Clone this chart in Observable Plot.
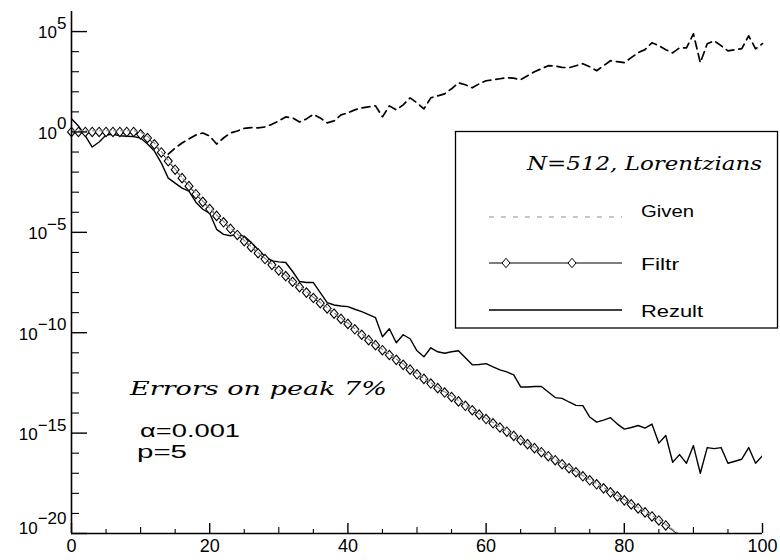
<!DOCTYPE html>
<html><head><meta charset="utf-8">
<script src="https://cdn.jsdelivr.net/npm/d3@7"></script>
<script src="https://cdn.jsdelivr.net/npm/@observablehq/plot@0.6"></script>
<style>
html,body{margin:0;padding:0;background:#fff;}
#chart{width:780px;height:560px;}
</style></head><body><div id="chart"></div>
<script>
// ---- data (values are log10 of the plotted quantity, x = index + start) ----
const filtrLog10 = [0,0,0,0,0,0,0,0,0,0,
  -0.12,-0.3,-0.62,-1.02,-1.45,-1.88,-2.3,-2.7,-3.1,-3.48,
  -3.84,-4.18,-4.5,-4.82,-5.13,-5.44,-5.74,-6.04,-6.33,-6.62,
  -6.9,-7.18,-7.46,-7.73,-8.0,-8.27,-8.53,-8.79,-9.05,-9.31,
  -9.56,-9.83,-10.1,-10.37,-10.62,-10.87,-11.11,-11.35,-11.6,-11.84,
  -12.07,-12.3,-12.53,-12.76,-12.98,-13.2,-13.42,-13.64,-13.86,-14.08,
  -14.3,-14.51,-14.72,-14.93,-15.14,-15.35,-15.55,-15.75,-15.95,-16.15,
  -16.35,-16.55,-16.75,-16.95,-17.15,-17.35,-17.55,-17.75,-17.95,-18.15,
  -18.35,-18.55,-18.75,-18.95,-19.15,-19.35,-19.6,-19.85,-20.1];
const filtrMarkerLast = 86;

const givenLog10 = [0.06,0.06,0.06,0.06,0.06,0.06,0.06,0.06,0.06,0.06,
  0.0,-0.22,-0.55,-0.98,-1.41,-1.84,-2.26,-2.66,-3.06,-3.44,
  -3.8,-4.14,-4.46,-4.78,-5.09,-5.4,-5.7,-6.0,-6.29,-6.58,
  -6.86,-7.14,-7.42,-7.69,-7.96,-8.23,-8.49,-8.75,-9.01,-9.27,
  -9.52,-9.79,-10.06,-10.33,-10.58,-10.83,-11.07,-11.31,-11.56,-11.8,
  -12.03,-12.26,-12.49,-12.72,-12.94,-13.16,-13.38,-13.6,-13.82,-14.04,
  -14.26,-14.47,-14.68,-14.89,-15.1,-15.31,-15.51,-15.71,-15.91,-16.11,
  -16.31,-16.51,-16.71,-16.91,-17.11,-17.31,-17.51,-17.71,-17.91,-18.11,
  -18.31,-18.51,-18.71,-18.91,-19.11,-19.31,-19.55,-19.8,-20.05];

const rezultLog10 = [0.66,0.3,-0.2,-0.75,-0.5,-0.15,-0.12,-0.19,-0.21,-0.23,
  -0.3,-0.6,-0.95,-1.55,-2.3,-2.55,-2.8,-2.95,-3.5,-3.85,
  -4.05,-4.85,-5.1,-5.17,-5.1,-5.2,-5.5,-5.85,-6.2,-6.42,
  -6.47,-6.5,-6.95,-7.45,-7.5,-7.5,-8.0,-8.5,-8.62,-8.67,
  -8.7,-8.83,-8.95,-9.1,-9.25,-10.2,-9.8,-10.5,-10.1,-10.3,
  -10.9,-11.2,-10.75,-10.95,-11.02,-10.95,-10.9,-11.25,-11.6,-11.58,
  -11.54,-11.7,-11.85,-11.95,-12.1,-12.7,-12.7,-12.68,-12.68,-12.95,
  -13.23,-13.27,-13.45,-13.62,-13.63,-14.2,-14.45,-14.35,-14.23,-14.55,
  -14.8,-14.72,-14.62,-14.75,-14.55,-15.5,-15.12,-16.45,-16.07,-16.5,
  -15.62,-17.0,-15.72,-15.77,-15.72,-16.5,-16.4,-16.3,-15.72,-16.5,
  -16.12];

const noiseStart = 14;
const noiseLog10 = [-1.1,-0.8,-0.55,-0.35,-0.15,-0.05,-0.2,-0.6,-0.3,-0.05,
  0.05,0.18,0.22,0.2,0.25,0.38,0.55,0.75,0.7,0.5,
  0.65,0.88,0.7,0.45,0.55,0.85,0.95,1.1,1.2,1.25,
  1.3,0.75,1.3,1.1,1.35,1.7,1.45,1.15,1.7,1.8,
  1.9,2.15,2.45,2.35,2.2,2.4,2.55,2.6,2.65,2.7,
  2.68,2.6,2.8,3.0,3.15,3.3,3.28,3.22,3.2,3.3,
  3.4,3.25,3.05,3.3,3.55,3.5,3.45,3.7,3.95,4.1,
  4.44,4.3,4.1,3.94,4.19,4.19,4.89,3.45,4.39,4.54,
  4.3,4.04,4.1,4.15,4.79,4.14,4.4];

const xLabelTicks = [0, 20, 40, 60, 80, 100];
const xTenTicks = [10, 30, 50, 70, 90];
const xFiveTicks = [5, 15, 25, 35, 45, 55, 65, 75, 85, 95];
const yMajorExp = [5, 0, -5, -10, -15, -20];
const yMinorExp = [4, 3, 2, 1, -1, -2, -3, -4, -6, -7, -8, -9, -11, -12, -13, -14, -16, -17, -18, -19];

const legendTitle = "N=512, Lorentzians";
const legendNames = ["Given", "Filtr", "Rezult"];
const noteTitle = "Errors on peak 7%";
const noteAlpha = "α=0.001";
const noteP = "p=5";

// ---- build ----
const W = 780, H = 560, mL = 71, mR = 18, mT = 11, mB = 27;
const fw = W - mL - mR, fh = H - mT - mB;
const toPts = (arr, start = 0) => arr.map((v, i) => ({x: start + i, y: Math.pow(10, v)}));
const filtr = toPts(filtrLog10), given = toPts(givenLog10), rezult = toPts(rezultLog10), noise = toPts(noiseLog10, noiseStart);
const yMajor = yMajorExp.map(e => Math.pow(10, e));
const yMinor = yMinorExp.map(e => Math.pow(10, e));

const diamond = {draw(ctx, size) {
  const s = Math.sqrt(size), h = s * 0.59, w = s * 0.5;
  ctx.moveTo(0, -h); ctx.lineTo(w, 0); ctx.lineTo(0, h); ctx.lineTo(-w, 0); ctx.closePath();
}};

const svgEl = Plot.plot({
  width: W, height: H,
  marginLeft: mL, marginRight: mR, marginTop: mT, marginBottom: mB,
  style: {background: "#fff", color: "#000", fontFamily: "'Liberation Sans', Arial, sans-serif", fontSize: "18px"},
  x: {domain: [0, 100], label: null},
  y: {type: "log", domain: [1e-20, 1e6], label: null},
  marks: [
    Plot.line(rezult, {x: "x", y: "y", stroke: "#000", strokeWidth: 1.4, clip: true}),
    Plot.line(filtr, {x: "x", y: "y", stroke: "#000", strokeWidth: 1, clip: true}),
    Plot.dot(filtr.filter(d => d.x <= filtrMarkerLast), {x: "x", y: "y", symbol: diamond, r: 4.5, fill: "#fff", stroke: "#000", strokeWidth: 1.1}),
    Plot.line(given, {x: "x", y: "y", stroke: "#8c8c8c", strokeWidth: 1.2, strokeDasharray: "4,3", clip: true}),
    Plot.line(noise, {x: "x", y: "y", stroke: "#000", strokeWidth: 1.7, strokeDasharray: "8,5"}),
    Plot.ruleX([0], {strokeWidth: 1.6}),
    Plot.ruleY([1e-20], {strokeWidth: 1.6}),
    Plot.tickY(yMajor, {y: d => d, insetRight: fw - 16, strokeWidth: 1.4}),
    Plot.tickY(yMinor, {y: d => d, insetRight: fw - 8, strokeWidth: 1.1}),
    Plot.tickX(xLabelTicks, {x: d => d, insetTop: fh - 10, strokeWidth: 1.4}),
    Plot.tickX(xTenTicks, {x: d => d, insetTop: fh - 6, strokeWidth: 1.1}),
    Plot.tickX(xFiveTicks, {x: d => d, insetTop: fh - 4, strokeWidth: 1.1}),
    Plot.axisX({ticks: xLabelTicks, tickSize: 0, tickPadding: 6, fontSize: 18, label: null, tickFormat: d => String(d)}),
    Plot.axisY({ticks: yMajor, tickSize: 0, tickPadding: 5, fontSize: 17, label: null, tickFormat: d => String(Math.round(Math.log10(d)))})
  ]
});
document.getElementById("chart").appendChild(svgEl);

const svg = d3.select(svgEl);
svg.selectAll('g[aria-label="x-axis tick label"] text').style("font-size", "18px").style("font-family", "'Liberation Sans', Arial, sans-serif");
svg.selectAll('g[aria-label="y-axis tick label"] text').each(function () {
  const t = d3.select(this);
  const e = t.text();
  t.text(null);
  t.style("font-size", "17px").style("font-family", "'Liberation Sans', Arial, sans-serif");
  t.attr("y", e === "-20" ? "0.0em" : "0.4em");
  t.append("tspan").text("10");
  t.append("tspan").attr("dy", "-0.55em").text(e.replace("-", "\u2212"));
});

// legend box
const lg = svg.append("g").attr("text-anchor", "start");
lg.append("rect").attr("x", 455.5).attr("y", 131.5).attr("width", 322).attr("height", 196.5)
  .attr("fill", "#fff").attr("stroke", "#000").attr("stroke-width", 1.3);
const serif = "'DejaVu Serif', 'Liberation Serif', serif";
const sans = "'Liberation Sans', Arial, sans-serif";
function txt(g, s, x, y, len, family, size, italic) {
  return g.append("text").attr("x", x).attr("y", y).attr("text-anchor", "start")
    .style("font-family", family).style("font-size", size + "px")
    .style("font-style", italic ? "italic" : "normal").attr("fill", "#000")
    .attr("textLength", len).attr("lengthAdjust", "spacingAndGlyphs").text(s);
}
txt(lg, legendTitle, 527, 170, 235, serif, 18, true);
const rows = [217, 263, 310];
const rowText = [217, 270, 317];
const textLen = [53, 38, 62];
lg.append("line").attr("x1", 489).attr("x2", 622).attr("y1", rows[0]).attr("y2", rows[0])
  .attr("stroke", "#8c8c8c").attr("stroke-width", 1.2).attr("stroke-dasharray", "5,7");
lg.append("line").attr("x1", 489).attr("x2", 622).attr("y1", rows[1]).attr("y2", rows[1])
  .attr("stroke", "#000").attr("stroke-width", 1.2);
[506, 572].forEach(cx => {
  lg.append("path").attr("d", d3.symbol(diamond, 4.5 * 4.5 * Math.PI)()).attr("transform", `translate(${cx},${rows[1]})`)
    .attr("fill", "#fff").attr("stroke", "#000").attr("stroke-width", 1);
});
lg.append("line").attr("x1", 489).attr("x2", 622).attr("y1", rows[2]).attr("y2", rows[2])
  .attr("stroke", "#000").attr("stroke-width", 1.3);
legendNames.forEach((n, i) => txt(lg, n, 641, rowText[i], textLen[i], sans, 16, false));

// annotations
const ng = svg.append("g").attr("text-anchor", "start");
txt(ng, noteTitle, 130, 395, 257, serif, 18, true);
txt(ng, noteAlpha, 140, 437, 100, sans, 19, false);
txt(ng, noteP, 137, 458, 50, sans, 19, false);
</script></body></html>
